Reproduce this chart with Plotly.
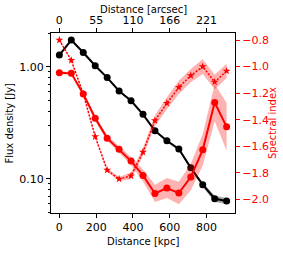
import plotly.graph_objects as go

# ---- data ----
distance_kpc = [0, 65, 130, 195, 260, 325, 390, 455, 520, 585, 650, 715, 780, 845, 910]
flux_jy = [1.27, 1.73, 1.34, 1.02, 0.80, 0.607, 0.497, 0.376, 0.268, 0.218, 0.184, 0.125, 0.0884, 0.0663, 0.0632]
flux_err = [0.02, 0.03, 0.02, 0.015, 0.012, 0.009, 0.008, 0.006, 0.005, 0.004, 0.004, 0.004, 0.004, 0.004, 0.004]
alpha_a = [-1.046, -1.051, -1.206, -1.389, -1.539, -1.622, -1.712, -1.820, -1.956, -1.915, -1.953, -1.832, -1.627, -1.271, -1.454]
alpha_a_err = [0.01, 0.01, 0.015, 0.02, 0.02, 0.025, 0.03, 0.045, 0.065, 0.075, 0.085, 0.10, 0.12, 0.14, 0.18]
alpha_b = [-0.80, -0.953, -1.206, -1.527, -1.780, -1.847, -1.823, -1.644, -1.407, -1.276, -1.156, -1.068, -1.0, -1.116, -1.033]
alpha_b_err = [0.005, 0.008, 0.01, 0.01, 0.012, 0.015, 0.025, 0.03, 0.04, 0.045, 0.05, 0.05, 0.055, 0.055, 0.055]

kpc_ticks = [0, 200, 400, 600, 800]
arcsec_labels = ["0", "55", "110", "166", "221"]
flux_ticks = [0.1, 1.0]
flux_ticklabels = ["0.10", "1.00"]
flux_minor = [0.05, 0.06, 0.07, 0.08, 0.09, 0.2, 0.3, 0.4, 0.5, 0.6, 0.7, 0.8, 0.9, 2.0]
alpha_ticks = [-0.8, -1.0, -1.2, -1.4, -1.6, -1.8, -2.0]

FONT = "DejaVu Sans"
RED = "#ff0000"


def band(x, y, e, axis_y, color):
    lo = [a - b for a, b in zip(y, e)]
    hi = [a + b for a, b in zip(y, e)]
    return go.Scatter(x=x + x[::-1], y=hi + lo[::-1], fill="toself", fillcolor=color,
                      line=dict(width=0), mode="lines", hoverinfo="skip",
                      showlegend=False, yaxis=axis_y)


fig = go.Figure()
fig.add_trace(band(distance_kpc, flux_jy, flux_err, "y", "rgba(0,0,0,0.35)"))
fig.add_trace(band(distance_kpc, alpha_a, alpha_a_err, "y2", "rgba(255,0,0,0.3)"))
fig.add_trace(band(distance_kpc, alpha_b, alpha_b_err, "y2", "rgba(255,0,0,0.3)"))

fig.add_trace(go.Scatter(x=distance_kpc, y=flux_jy, mode="lines+markers",
                         line=dict(color="black", width=2),
                         marker=dict(color="black", size=7), yaxis="y", showlegend=False))
fig.add_trace(go.Scatter(x=distance_kpc, y=alpha_a, mode="lines+markers",
                         line=dict(color=RED, width=2),
                         marker=dict(color=RED, size=7), yaxis="y2", showlegend=False))
fig.add_trace(go.Scatter(x=distance_kpc, y=alpha_b, mode="lines+markers",
                         line=dict(color=RED, width=1.5, dash="2px,1.5px"),
                         marker=dict(color=RED, size=6, symbol="star"), yaxis="y2", showlegend=False))
# invisible trace to activate top axis
fig.add_trace(go.Scatter(x=[distance_kpc[0]], y=[flux_jy[0]], xaxis="x2", yaxis="y",
                         mode="markers", marker=dict(opacity=0), showlegend=False, hoverinfo="skip"))

xr = [-45.5, 955.5]
common = dict(showline=True, linecolor="black", linewidth=1, showgrid=False,
              zeroline=False, automargin=False, ticks="outside", ticklen=4, tickwidth=1)
fig.update_layout(
    width=283, height=253,
    margin=dict(l=51, r=48, t=33, b=40, autoexpand=False),
    paper_bgcolor="white", plot_bgcolor="white",
    font=dict(family=FONT, size=11, color="black"),
    xaxis=dict(range=xr, tickmode="array", tickvals=kpc_ticks, tickcolor="black", **common),
    xaxis2=dict(range=xr, overlaying="x", side="top", anchor="y", tickmode="array",
                tickvals=kpc_ticks, ticktext=arcsec_labels, tickcolor="black", **common),
    yaxis=dict(type="log", range=[-1.306, 0.301], tickmode="array", tickvals=flux_ticks,
               ticktext=flux_ticklabels, tickcolor="black",
               minor=dict(tickmode="array", tickvals=flux_minor, ticks="outside", ticklen=2,
                          tickcolor="black", showgrid=False), **common),
    yaxis2=dict(overlaying="y", side="right", anchor="x", range=[-2.103, -0.747],
                tickmode="array", tickvals=alpha_ticks,
                ticktext=[("\u2212%.1f" % abs(v)) for v in alpha_ticks],
                tickcolor=RED, tickfont=dict(color=RED), **common),
)

# axis titles as annotations (pixel-placed)
W, L, H, B = 184.0, 51.0, 180.0, 213.0
def px(x):
    return (x - L) / W
def py(y):
    return (B - y) / H

fig.add_annotation(text="Distance [kpc]", x=px(143), y=py(241.5), xref="paper", yref="paper",
                   showarrow=False, font=dict(size=10, color="black"), xanchor="center", yanchor="middle")
fig.add_annotation(text="Distance [arcsec]", x=px(143), y=py(9.5), xref="paper", yref="paper",
                   showarrow=False, font=dict(size=10, color="black"), xanchor="center", yanchor="middle")
fig.add_annotation(text="Flux density [Jy]", x=px(8.5), y=py(123), xref="paper", yref="paper",
                   showarrow=False, textangle=-90, font=dict(size=10, color="black"),
                   xanchor="center", yanchor="middle")
fig.add_annotation(text="Spectral index", x=px(272), y=py(123), xref="paper", yref="paper",
                   showarrow=False, textangle=-90, font=dict(size=10, color=RED),
                   xanchor="center", yanchor="middle")

fig.write_html("out.html", config={"displayModeBar": False},
               post_script="document.body.style.margin='0';document.body.style.overflow='hidden';")
